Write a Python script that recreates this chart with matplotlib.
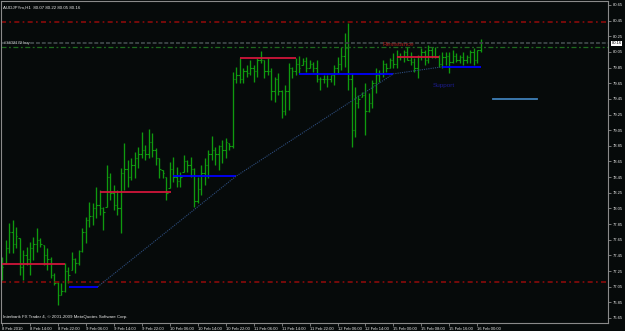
import matplotlib
matplotlib.use("Agg")
import matplotlib.pyplot as plt
import matplotlib.transforms as mtransforms

# AUDJPYm H1 bars (bar index 0 = 8 Feb 2010 morning)
opens = [77.20, 77.35, 77.55, 77.75, 77.60, 77.67, 77.30, 77.45, 77.40, 77.55,
         77.60, 77.65, 77.58, 77.45, 77.40, 77.20, 77.10, 76.95, 77.00, 77.25,
         77.26, 77.40, 77.35, 77.50, 77.75, 77.90, 77.95, 78.05, 78.10, 78.05,
         78.07, 78.45, 78.25, 78.10, 78.05, 78.50, 78.55, 78.45, 78.60, 78.70,
         78.75, 78.80, 78.75, 78.90, 78.80, 78.70, 78.54, 78.45, 78.31, 78.55,
         78.45, 78.40, 78.52, 78.65, 78.60, 78.55, 78.15, 78.30, 78.50, 78.60,
         78.75, 78.80, 78.75, 78.85, 78.80, 78.89, 78.85, 79.70, 79.75, 79.70,
         79.80, 79.78, 79.85, 79.80, 79.95, 79.95, 79.80, 79.80, 79.55, 79.70,
         79.55, 79.30, 79.55, 79.85, 79.80, 79.90, 79.88, 79.93, 79.85, 79.90,
         79.85, 79.70, 79.70, 79.70, 79.70, 79.75, 79.85, 79.90, 80.00, 80.10,
         79.70, 79.05, 79.40, 79.47, 79.50, 79.30, 79.40, 79.65, 79.75, 79.78,
         79.90, 79.85, 79.95, 79.90, 80.00, 79.98, 80.05, 79.95, 79.92, 79.85,
         80.00, 80.05, 79.95, 80.08, 80.00, 79.98, 79.90, 79.98, 80.00, 79.92,
         80.00, 79.95, 79.98, 79.95, 79.98, 80.05, 79.95, 80.07]
highs = [77.43, 77.65, 77.87, 77.90, 77.81, 77.67, 77.52, 77.56, 77.62, 77.68,
         77.80, 77.67, 77.58, 77.54, 77.43, 77.23, 77.11, 77.10, 77.35, 77.30,
         77.49, 77.42, 77.52, 77.80, 77.94, 78.13, 78.12, 78.32, 78.29, 78.07,
         78.60, 78.50, 78.35, 78.29, 78.57, 78.89, 78.67, 78.70, 78.77, 78.84,
         79.03, 78.86, 79.07, 79.01, 78.82, 78.70, 78.54, 78.45, 78.64, 78.71,
         78.58, 78.52, 78.73, 78.67, 78.71, 78.57, 78.45, 78.60, 78.70, 78.80,
         78.98, 78.84, 78.86, 78.92, 78.95, 78.89, 79.79, 79.86, 79.97, 79.84,
         79.88, 79.95, 79.88, 79.97, 80.06, 79.95, 79.97, 79.84, 79.73, 79.78,
         79.56, 79.63, 79.91, 79.86, 79.97, 80.00, 79.97, 79.99, 79.95, 79.92,
         79.95, 79.73, 79.76, 79.76, 79.76, 79.88, 79.99, 80.11, 80.29, 80.42,
         79.78, 79.60, 79.50, 79.54, 79.65, 79.52, 79.69, 79.84, 79.82, 79.95,
         79.91, 79.97, 80.04, 80.08, 80.04, 80.08, 80.11, 80.05, 79.97, 80.01,
         80.10, 80.08, 80.14, 80.11, 80.11, 80.01, 80.05, 80.05, 80.05, 80.08,
         80.04, 80.01, 80.05, 80.01, 80.08, 80.10, 80.08, 80.22]
lows = [77.14, 77.35, 77.48, 77.48, 77.54, 77.20, 77.14, 77.33, 77.20, 77.39,
        77.49, 77.56, 77.33, 77.26, 77.16, 77.07, 76.82, 76.94, 76.98, 77.10,
        77.26, 77.23, 77.33, 77.49, 77.61, 77.81, 77.84, 77.93, 77.97, 77.77,
        78.07, 78.16, 78.03, 77.97, 77.74, 78.29, 78.32, 78.41, 78.44, 78.57,
        78.70, 78.67, 78.70, 78.71, 78.60, 78.44, 78.44, 78.16, 78.31, 78.39,
        78.32, 78.32, 78.52, 78.52, 78.45, 78.07, 78.12, 78.22, 78.35, 78.44,
        78.67, 78.60, 78.54, 78.63, 78.70, 78.80, 78.82, 79.65, 79.65, 79.65,
        79.73, 79.75, 79.67, 79.73, 79.91, 79.72, 79.75, 79.44, 79.41, 79.50,
        79.21, 79.24, 79.31, 79.72, 79.75, 79.78, 79.88, 79.79, 79.84, 79.79,
        79.67, 79.56, 79.65, 79.60, 79.67, 79.63, 79.78, 79.82, 79.86, 79.56,
        78.84, 78.96, 79.33, 79.47, 78.99, 79.28, 79.33, 79.52, 79.67, 79.73,
        79.79, 79.84, 79.84, 79.84, 79.95, 79.92, 79.95, 79.88, 79.79, 79.72,
        79.95, 79.88, 79.91, 79.97, 79.97, 79.86, 79.84, 79.88, 79.78, 79.91,
        79.92, 79.91, 79.88, 79.91, 79.91, 79.88, 79.91, 80.05]
closes = [77.30, 77.55, 77.75, 77.60, 77.70, 77.30, 77.45, 77.40, 77.55, 77.60,
          77.65, 77.60, 77.45, 77.40, 77.20, 77.10, 76.95, 77.00, 77.25, 77.20,
          77.40, 77.35, 77.50, 77.75, 77.90, 77.95, 78.05, 78.10, 78.05, 78.00,
          78.45, 78.25, 78.10, 78.05, 78.50, 78.55, 78.45, 78.60, 78.70, 78.75,
          78.80, 78.75, 78.90, 78.80, 78.70, 78.55, 78.50, 78.25, 78.55, 78.45,
          78.40, 78.45, 78.65, 78.60, 78.55, 78.15, 78.30, 78.50, 78.60, 78.75,
          78.80, 78.75, 78.85, 78.80, 78.90, 78.85, 79.70, 79.75, 79.70, 79.80,
          79.78, 79.85, 79.80, 79.95, 79.95, 79.80, 79.80, 79.55, 79.70, 79.55,
          79.30, 79.55, 79.85, 79.80, 79.90, 79.85, 79.93, 79.85, 79.90, 79.85,
          79.70, 79.70, 79.70, 79.70, 79.75, 79.85, 79.90, 80.00, 80.10, 79.70,
          79.05, 79.40, 79.45, 79.50, 79.30, 79.40, 79.65, 79.75, 79.78, 79.90,
          79.85, 79.95, 79.90, 80.00, 79.98, 80.05, 79.95, 79.92, 79.85, 80.00,
          80.05, 79.95, 80.08, 80.00, 79.98, 79.90, 79.98, 80.00, 79.92, 80.00,
          79.95, 79.98, 79.95, 79.98, 80.05, 79.95, 80.07, 80.16]

# time axis labels (every 8 bars)
label_bars = [0, 8, 16, 24, 32, 40, 48, 56, 64, 72, 80, 88, 96, 104, 112, 120, 128, 136]
time_labels = ["8 Feb 2010", "8 Feb 14:00", "8 Feb 22:00", "9 Feb 06:00", "9 Feb 14:00",
               "9 Feb 22:00", "10 Feb 06:00", "10 Feb 14:00", "10 Feb 22:00", "11 Feb 06:00",
               "11 Feb 14:00", "11 Feb 22:00", "12 Feb 06:00", "12 Feb 14:00", "15 Feb 00:00",
               "15 Feb 08:00", "15 Feb 16:00", "16 Feb 00:00"]
price_ticks = [80.65, 80.45, 80.25, 80.05, 79.85, 79.65, 79.45, 79.25, 79.05, 78.85, 78.65,
               78.45, 78.25, 78.05, 77.85, 77.65, 77.45, 77.25, 77.05, 76.85, 76.65]

# hand drawn levels: (start bar, end bar, price)
resistance = [(0, 18, 77.34), (28, 48.3, 78.26), (68, 84, 79.97), (113.1, 124.9, 79.98)]
support = [(19.1, 27.4, 77.05), (48.9, 66.9, 78.46), (84.9, 112, 79.77), (126, 137.1, 79.86)]
trend_x = [27.4, 66.9, 112, 126]
trend_y = [77.05, 78.46, 79.77, 79.86]
dashdot_red = [80.43, 77.11]
order_price = 80.11
bid_price = 80.16
extra_level = (140.6, 153.1, 79.45)

BG = "#060a0a"
TXT = "#e8e8e8"
FS = 3.0
plt.rcParams["font.family"] = ["Liberation Sans", "DejaVu Sans"]

fig = plt.figure(figsize=(6.25, 3.31), dpi=100, facecolor=BG)
ax = fig.add_axes([0.0016, 0.0242, 0.9712, 0.9728])
ax.set_facecolor(BG)
ax.set_xlim(-0.3, 173.4)
ax.set_ylim(76.586, 80.701)

# bars
GREEN = "#0f9a0f"
idx = list(range(len(highs)))
ax.vlines(idx, lows, highs, color=GREEN, lw=0.95)
ax.hlines(opens, [i - 0.4 for i in idx], idx, color=GREEN, lw=0.8)
ax.hlines(closes, idx, [i + 0.4 for i in idx], color=GREEN, lw=0.8)

# horizontal levels
for y in dashdot_red:
    ax.axhline(y, color="#8a0a0a", lw=1.2, ls=(0, (3, 2, 1, 2)))
ax.axhline(bid_price, color="#3a4244", lw=1.4, ls=(0, (2, 1)))
ax.axhline(order_price, color="#1e6a1e", lw=0.9, ls=(0, (4, 2, 1.5, 2)))

for x0, x1, y in resistance:
    ax.plot([x0, x1], [y, y], color="#d0163a", lw=1.3, solid_capstyle="butt")
for x0, x1, y in support:
    ax.plot([x0, x1], [y, y], color="#0000ff", lw=1.3, solid_capstyle="butt")
ax.plot(trend_x, trend_y, color="#2c4c7c", lw=0.8, ls=(0, (1, 1)))
ax.plot(extra_level[:2], [extra_level[2]] * 2, color="#3f80b8", lw=1.3)

ax.text(108.8, 80.14, "Resistance", color="#a51616", fontsize=4.6, va="center", ha="left")
ax.text(123.1, 79.615, "Support", color="#1c1c8e", fontsize=4.6, va="center", ha="left")
ax.text(0.5, bid_price, "#3432172 buy", color="#c8c8c8", fontsize=FS, va="center", ha="left")

# header and footer
ax.text(0.004, 0.985, "AUDJPYm,H1  80.07 80.22 80.05 80.16", transform=ax.transAxes,
        color=TXT, fontsize=FS + 0.2, va="top", ha="left")
ax.text(0.004, 0.012, "Interbank FX Trader 4, \u00a9 2001-2009 MetaQuotes Software Corp.",
        transform=ax.transAxes, color=TXT, fontsize=FS + 0.2, va="bottom", ha="left")

# axes
for s in ax.spines.values():
    s.set_color("#8a8a8a")
    s.set_linewidth(0.8)
ax.yaxis.tick_right()
ax.set_yticks(price_ticks)
ax.set_yticklabels([f"{p:.2f}" for p in price_ticks])
ax.tick_params(axis="y", colors="#8a8a8a", labelcolor=TXT, labelsize=FS, length=2, width=0.6, pad=1.2)
ax.set_xticks(label_bars)
ax.set_xticklabels(time_labels)
for lab in ax.get_xticklabels():
    lab.set_horizontalalignment("left")
ax.tick_params(axis="x", colors="#8a8a8a", labelcolor=TXT, labelsize=FS, length=2, width=0.6, pad=1)

# current price box
trans = mtransforms.blended_transform_factory(ax.transAxes, ax.transData)
ax.text(1.006, bid_price, "80.16", transform=trans, color="black", fontsize=FS, va="center",
        ha="left", bbox=dict(facecolor="white", edgecolor="none", pad=0.4))

fig.savefig("out.png", dpi=100, facecolor=BG)
